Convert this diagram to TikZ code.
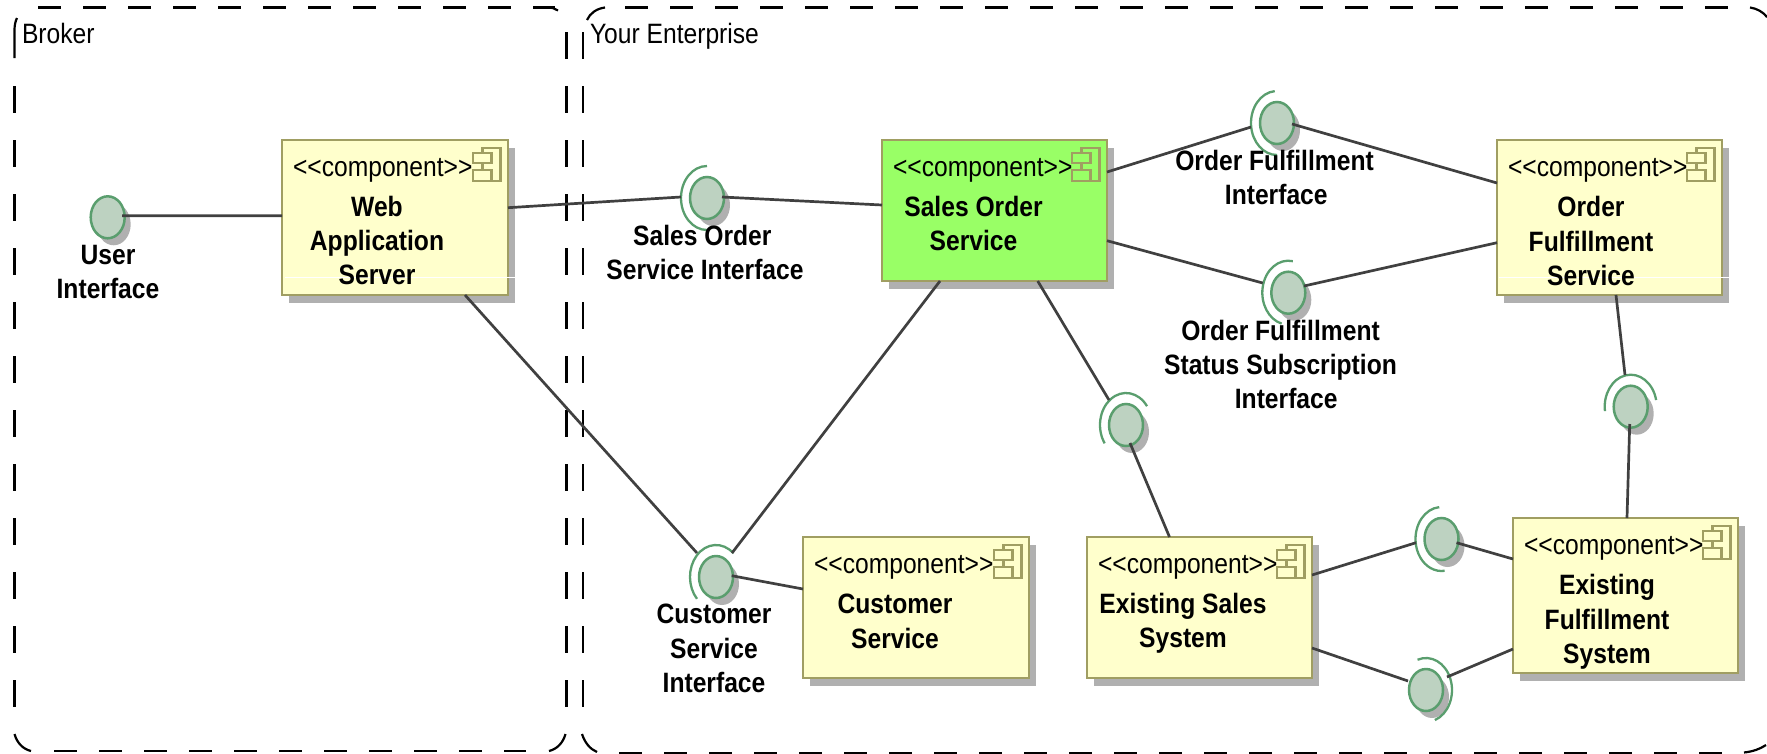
\documentclass[tikz,border=0pt]{standalone}
\usepackage{fontspec}
\setmainfont{Liberation Sans}
\usetikzlibrary{calc,shapes.geometric,shadows}
\definecolor{shgray}{HTML}{B0B0B0}
\definecolor{boxfill}{HTML}{FFFFCC}
\definecolor{boxline}{HTML}{A09E62}
\definecolor{hotfill}{HTML}{99FF66}
\definecolor{lolfill}{HTML}{BDD2C1}
\definecolor{lolline}{HTML}{5A9E6E}
\definecolor{connline}{HTML}{404040}
\tikzset{
  compbox/.style={draw=boxline,line width=2.7pt,fill=boxfill,rectangle,anchor=north west,inner sep=0,outer sep=0,
    drop shadow={shadow xshift=7pt,shadow yshift=-7.5pt,fill=shgray,opacity=1}},
  lolli/.style={draw=lolline,line width=2.5pt,fill=lolfill,ellipse,inner sep=0,outer sep=0,minimum width=34pt,minimum height=42pt,
    drop shadow={shadow xshift=6pt,shadow yshift=-7pt,fill=shgray,opacity=1}},
  sockarc/.style={draw=lolline,line width=2.3pt},
  conn/.style={draw=connline,line width=2.7pt},
  txt/.style={transform shape,xscale=.88,inner sep=0,outer sep=0,align=center,font=\fontsize{28}{34.4}\selectfont},
  boldtxt/.style={txt,font=\fontsize{28}{34.4}\selectfont\bfseries},
  stereo/.style={txt,anchor=west},
  iconline/.style={draw=boxline,line width=2.5pt},
  edgeh/.style={black,line width=2.2pt,dash pattern=on 22.5pt off 22.5pt},
  edgev/.style={black,line width=2.2pt,dash pattern=on 27pt off 27pt},
  corner/.style={black,line width=2.2pt},
}
\newcommand{\sockat}[3]{\draw[sockarc] ($(#1)+({-1*(#2)}:26 and 32)$) arc[start angle={-1*(#2)},end angle={-1*(#3)},x radius=26,y radius=32];}
\newcommand{\iconat}[2]{%
  \draw[iconline] ($(#1.north east)+(-25.3,8)$) rectangle ($(#1.north east)+(-7.3,41)$);
  \filldraw[iconline,fill=#2] ($(#1.north east)+(-35,13)$) rectangle ($(#1.north east)+(-16.3,23)$);
  \filldraw[iconline,fill=#2] ($(#1.north east)+(-35,30)$) rectangle ($(#1.north east)+(-16.3,41)$);
  \node[stereo] (#1st) at ($(#1.north west)+(11,30)$) {<{}<component>{}>};}
\begin{document}
\begin{tikzpicture}[x=1pt,y=-1pt]
\useasboundingbox (0,0) rectangle (1767,753);
% frames
\draw[edgeh] (38,7.5) -- (555,7.5);
\draw[edgeh] (54,751) -- (526,751);
\draw[edgeh] (625,7.5) -- (1728,7.5);
\draw[edgeh] (619,752.6) -- (1722,752.6);
\draw[edgev] (14.5,86) -- (14.5,707);
\draw[edgev] (566.5,32) -- (566.5,707);
\draw[edgev] (583,32) -- (583,707);
\draw[corner] (14.5,58) -- (14.5,30) .. controls (14.5,25) and (15.5,21) .. (17,18);
\draw[corner] (533,7.5) -- (548,7.5) .. controls (552,7.5) and (555,8.5) .. (558,10.5);
\draw[corner] (587,20) .. controls (590,13) and (597,8.5) .. (605,7.5);
\draw[corner] (1750,7.5) .. controls (1757,8.5) and (1763,12) .. (1767,17);
\draw[corner] (14.5,734) .. controls (17,743) and (23,749) .. (31,751);
\draw[corner] (549,751) .. controls (557,749) and (563,743) .. (565.5,734);
\draw[corner] (582,734) .. controls (585,743) and (590,749) .. (597,752);
\draw[corner] (1744,752.5) .. controls (1753,751.5) and (1760,749) .. (1766,745);
\node[txt,anchor=west] (broker) at (22,33.5) {Broker};
\node[txt,anchor=west] (yourent) at (590,36) {Your Enterprise};
% components
\node[compbox,minimum width=226pt,minimum height=155pt] (web) at (282,140) {};
\node[compbox,fill=hotfill,minimum width=225pt,minimum height=141pt] (sales) at (882,140) {};
\node[compbox,minimum width=225pt,minimum height=155pt] (order) at (1497,140) {};
\node[compbox,minimum width=226pt,minimum height=141pt] (cust) at (803,537) {};
\node[compbox,minimum width=225pt,minimum height=141pt] (exsales) at (1087,537) {};
\node[compbox,minimum width=225pt,minimum height=155pt] (exful) at (1513,518) {};
\draw[white,line width=.7pt] ($(web.north west)+(3,137)$) -- ($(web.north east)+(7,137)$);
\draw[white,line width=.7pt] ($(order.north west)+(2,137)$) -- ($(order.north east)+(7,137)$);
\iconat{web}{boxfill}
\iconat{sales}{hotfill}
\iconat{order}{boxfill}
\iconat{cust}{boxfill}
\iconat{exsales}{boxfill}
\iconat{exful}{boxfill}
% interfaces
\node[lolli] (ui) at (107.7,217.3) {};
\node[lolli] (sosi) at (707,198) {};
\node[lolli] (ofi) at (1277,123) {};
\node[lolli] (ofssi) at (1288.3,292.7) {};
\node[lolli] (exi) at (1126,425) {};
\node[lolli] (rgi) at (1630.7,406.7) {};
\node[lolli] (csi) at (716,577) {};
\node[lolli] (e1) at (1441.5,539) {};
\node[lolli] (e2) at (1426,690) {};
\sockat{sosi}{90}{270}
\sockat{ofi}{95}{270}
\sockat{ofssi}{80}{255}
\sockat{exi}{36}{215}
\sockat{rgi}{12}{188}
\sockat{csi}{48}{223}
\sockat{e1}{95}{277}
\sockat{e2}{-70}{109}
% connectors
\draw[conn] ($(ui)+(14.5,-1.5)$) -- ($(web.north west)+(0,75.7)$);
\draw[conn] ($(web.north east)+(0,67.7)$) -- ($(sosi)+(-26,-1)$);
\draw[conn] ($(sosi)+(15,-1)$) -- ($(sales.north west)+(0,65)$);
\draw[conn] ($(web.south west)+(183,0)$) -- ($(csi)+(-19,-24)$);
\draw[conn] ($(sales.south west)+(58,0)$) -- ($(csi)+(16,-24)$);
\draw[conn] ($(csi)+(15.7,-1.3)$) -- ($(cust.north west)+(0,52)$);
\draw[conn] ($(sales.north east)+(0,32)$) -- ($(ofi)+(-26,4)$);
\draw[conn] ($(ofi)+(15,1)$) -- ($(order.north west)+(0,43)$);
\draw[conn] ($(sales.north east)+(0,100.7)$) -- ($(ofssi)+(-25.6,-9.7)$);
\draw[conn] ($(ofssi)+(15.7,-6.7)$) -- ($(order.north west)+(0,102.7)$);
\draw[conn] ($(sales.south west)+(155.7,0)$) -- ($(exi)+(-17,-25)$);
\draw[conn] ($(exi)+(4,18)$) -- ($(exsales.north west)+(82.5,0)$);
\draw[conn] ($(order.south west)+(119,0)$) -- ($(rgi)+(-5.7,-31.7)$);
\draw[conn] ($(rgi)+(-1,17.3)$) -- ($(exful.north west)+(114,0)$);
\draw[conn] ($(exsales.north east)+(0,38)$) -- ($(e1)+(-25.5,3.7)$);
\draw[conn] ($(e1)+(15,3.7)$) -- ($(exful.north west)+(0,41)$);
\draw[conn] ($(exsales.north east)+(0,111)$) -- ($(e2)+(-18,-9)$);
\draw[conn] ($(e2)+(21,-13)$) -- ($(exful.north west)+(0,131)$);
% titles
\node[boldtxt] (webt) at (377,240.5) {Web\\Application\\Server};
\node[boldtxt] (salest) at (973.5,223.3) {Sales Order\\Service};
\node[boldtxt] (ordert) at (1591,241) {Order\\Fulfillment\\Service};
\node[boldtxt] (custt) at (895,621.5) {Customer\\Service};
\node[boldtxt] (exsalest) at (1183,623) {Existing Sales\\System};
\node[boldtxt] (exfult) at (1607,622) {Existing\\Fulfillment\\System};
% interface labels
\node[boldtxt] (uil) at (108,272) {User\\Interface};
\node[boldtxt] (sosil) at (705,252.5) {Sales Order\hspace*{6pt}\\Service Interface};
\node[boldtxt] (ofil) at (1274.5,177.5) {Order Fulfillment\\\hspace*{4pt}Interface};
\node[boldtxt] (ofssil) at (1280.5,364.5) {Order Fulfillment\\Status Subscription\\\hspace*{13pt}Interface};
\node[boldtxt] (csil) at (714,648.5) {Customer\\Service\\Interface};
\end{tikzpicture}
\end{document}
